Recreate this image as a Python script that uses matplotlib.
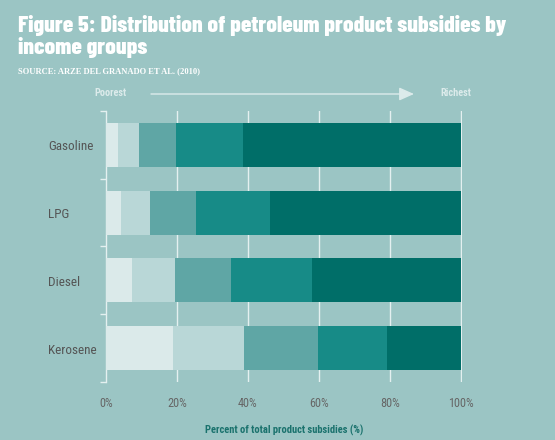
import matplotlib
matplotlib.use("Agg")
import matplotlib.pyplot as plt
import matplotlib.patches as mpatches
from matplotlib.transforms import blended_transform_factory
import numpy as np

categories = ["Gasoline", "LPG", "Diesel", "Kerosene"]
q1 = [3.4, 4.3, 7.3, 18.8]
q2 = [6.0, 8.0, 12.0, 20.0]
q3 = [10.2, 13.0, 15.9, 20.8]
q4 = [18.9, 20.9, 22.7, 19.6]
q5 = [61.5, 53.8, 42.1, 20.8]
xticks = [0, 20, 40, 60, 80, 100]
xtick_labels = ["0%", "20%", "40%", "60%", "80%", "100%"]

BG = "#9bc5c4"
colors = ["#dbeaea", "#b9d7d7", "#5fa6a5", "#178b87", "#006e68"]
COND = ["Roboto Condensed", "PT Sans Narrow", "DejaVu Sans"]
TITLEF = ["Barlow Condensed", "Roboto Condensed", "DejaVu Sans"]
SERIF = ["Liberation Serif", "DejaVu Serif"]

fig = plt.figure(figsize=(5.55, 4.4), dpi=100, facecolor=BG)
W, H = 555, 440
ax = fig.add_axes([106 / W, 1 - 382 / H, (462 - 106) / W, (382 - 111) / H])
ax.set_facecolor(BG)

y = np.arange(len(categories))
left = np.zeros(len(categories))
for vals, c in zip([q1, q2, q3, q4, q5], colors):
    ax.barh(y, vals, left=left, height=0.65, color=c, zorder=3, linewidth=0)
    left = left + np.array(vals)

ax.set_xlim(0, 100.3)
ax.set_ylim(3.5, -0.5)

for gx in xticks[1:]:
    ax.axvline(gx, color="#e4f0f0", lw=1.0, zorder=1)

for s in ["top", "right", "bottom"]:
    ax.spines[s].set_visible(False)
ax.spines["left"].set_color("#e4f0f0")
ax.spines["left"].set_linewidth(1.0)

ax.set_yticks(np.arange(-0.5, len(categories), 1.0))
ax.set_yticklabels([])
ax.tick_params(axis="y", which="major", length=4, width=1.0, color="#e4f0f0", direction="out")
lab_tr = blended_transform_factory(fig.transFigure, ax.transData)
for yi, cat in zip(y, categories):
    ax.text(48 / W, yi + 0.03, cat, transform=lab_tr,
            ha="left", va="center", fontfamily=COND, fontsize=9.5, color="#555555")

ax.set_xticks(xticks)
ax.set_xticklabels(xtick_labels, fontfamily=COND, fontsize=8.8, color="#666666")
ax.tick_params(axis="x", length=0, pad=11)

renderer = fig.canvas.get_renderer()


def fit(t, target_w):
    for _ in range(3):
        w = t.get_window_extent(renderer=renderer).width
        t.set_fontsize(t.get_fontsize() * target_w / w)


xl = fig.text(284 / W, 1 - 430 / H, "Percent of total product subsidies (%)",
              ha="center", va="center", fontfamily=COND, fontsize=7.5,
              fontweight="bold", color="#1a726d")
fit(xl, 156)

t1 = fig.text(18 / W, 1 - 32.5 / H, "Figure 5: Distribution of petroleum product subsidies by",
              ha="left", va="baseline", fontfamily=TITLEF, fontsize=18, fontweight=800,
              color="white")
fit(t1, 488)
t2 = fig.text(18 / W, 1 - 54 / H, "income groups",
              ha="left", va="baseline", fontfamily=TITLEF, fontsize=t1.get_fontsize(),
              fontweight=800, color="white")
src = fig.text(18 / W, 1 - 71 / H, "SOURCE: ARZE DEL GRANADO ET AL. (2010)",
               ha="left", va="center", fontfamily=SERIF,
               fontsize=5.8, fontweight="bold", color="white")
fit(src, 183)

p = fig.text(110 / W, 1 - 92.5 / H, "Poorest", ha="center", va="center",
             fontfamily=COND, fontsize=7.5, fontweight="bold", color="#dcebeb")
fit(p, 32)
r = fig.text(455.5 / W, 1 - 93.5 / H, "Richest", ha="center", va="center",
             fontfamily=COND, fontsize=7.5, fontweight="bold", color="#dcebeb")
fit(r, 31)
fig.add_artist(mpatches.FancyArrowPatch(
    (151 / W, 1 - 94 / H), (414 / W, 1 - 94 / H), transform=fig.transFigure,
    arrowstyle="-|>,head_length=9,head_width=4", color="#dcebeb", lw=1.0,
    shrinkA=0, shrinkB=0))

fig.savefig("out.png", dpi=100, facecolor=BG)
